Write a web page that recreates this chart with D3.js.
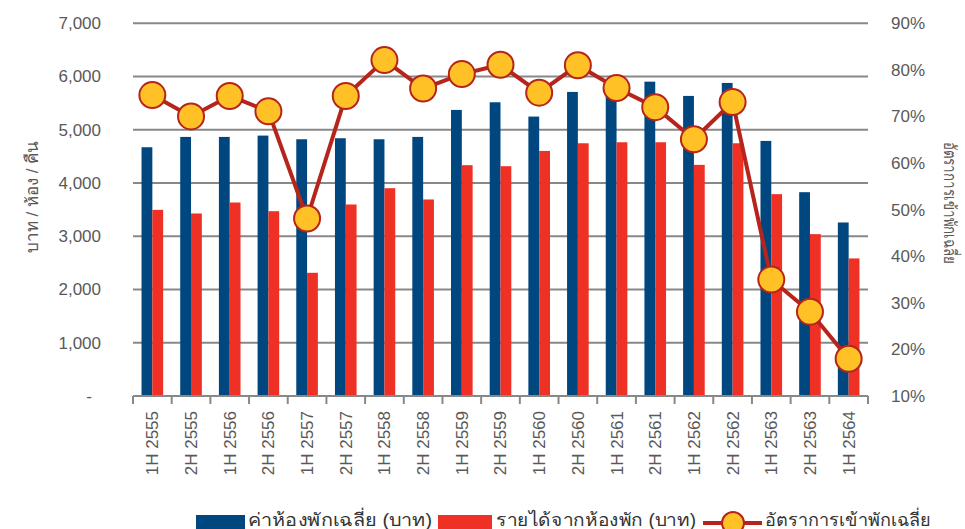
<!DOCTYPE html>
<html lang="th">
<head>
<meta charset="UTF-8">
<title>ค่าห้องพักเฉลี่ย รายได้ และอัตราการเข้าพัก</title>
<script src="https://d3js.org/d3.v7.min.js"></script>
<style>
  body { margin: 0; background: #fff; }
  svg { display: block; font-family: "Liberation Sans", Arial, "Noto Sans", sans-serif; }
  .tick-label { font-size: 17px; fill: #595959; }
  .title { font-size: 17px; fill: #595959; }
  .legend text { font-size: 18px; fill: #333; }
</style>
</head>
<body>
<script>
// data
const periods = ["1H 2555", "2H 2555", "1H 2556", "2H 2556", "1H 2557", "2H 2557", "1H 2558", "2H 2558",
  "1H 2559", "2H 2559", "1H 2560", "2H 2560", "1H 2561", "2H 2561", "1H 2562", "2H 2562",
  "1H 2563", "2H 2563", "1H 2564"];
const avgRoomRate = [4672, 4866, 4866, 4891, 4822, 4841, 4822, 4866, 5373, 5517, 5248, 5711,
  5895, 5904, 5636, 5880, 4791, 3828, 3259];
const roomRevenue = [3496, 3428, 3634, 3471, 2314, 3597, 3903, 3691, 4335, 4316, 4603, 4747,
  4766, 4766, 4341, 4747, 3791, 3040, 2584];
const occupancy = [74.6, 70.0, 74.4, 71.1, 48.1, 74.4, 82.1, 76.0, 79.1, 81.1, 75.1, 81.0,
  76.1, 72.0, 65.1, 73.1, 35.0, 28.1, 18.0];
const leftTicks = [0, 1000, 2000, 3000, 4000, 5000, 6000, 7000];
const rightTicks = [10, 20, 30, 40, 50, 60, 70, 80, 90];

const W = 965, H = 529;
const plot = { left: 133, right: 868, top: 23.3, bottom: 396 };
const blue = "#00467f", red = "#ee3124", lineCol = "#b5251b", gold = "#ffc125", grid = "#888";

const svg = d3.select("body").append("svg").attr("width", W).attr("height", H);

const x = d3.scaleBand().domain(periods).range([plot.left, plot.right]).padding(0);
const inner = d3.scaleBand().domain(["avg", "rev"]).range([0, x.step()])
  .paddingInner(0).paddingOuter(0.79);
const yL = d3.scaleLinear().domain([0, 7000]).range([plot.bottom, plot.top]);
const yR = d3.scaleLinear().domain([10, 90]).range([plot.bottom, plot.top]);

// gridlines
svg.append("g").selectAll("line")
  .data(leftTicks.filter(d => d > 0))
  .join("line")
  .attr("x1", plot.left).attr("x2", plot.right)
  .attr("y1", d => yL(d)).attr("y2", d => yL(d))
  .attr("stroke", grid).attr("stroke-width", 2);

// bars
const groups = svg.append("g").selectAll("g")
  .data(periods)
  .join("g")
  .attr("transform", d => `translate(${x(d)},0)`);

groups.append("rect")
  .attr("x", inner("avg")).attr("width", inner.bandwidth())
  .attr("y", (d, i) => yL(avgRoomRate[i]))
  .attr("height", (d, i) => yL(0) - yL(avgRoomRate[i]))
  .attr("fill", blue);

groups.append("rect")
  .attr("x", inner("rev")).attr("width", inner.bandwidth())
  .attr("y", (d, i) => yL(roomRevenue[i]))
  .attr("height", (d, i) => yL(0) - yL(roomRevenue[i]))
  .attr("fill", red);

// x axis
const xAxis = svg.append("g");
xAxis.append("line")
  .attr("x1", plot.left).attr("x2", plot.right)
  .attr("y1", plot.bottom).attr("y2", plot.bottom)
  .attr("stroke", grid).attr("stroke-width", 2);
xAxis.selectAll("line.tk")
  .data(periods.map(p => x(p)).concat([plot.right]))
  .join("line").attr("class", "tk")
  .attr("x1", d => d).attr("x2", d => d)
  .attr("y1", plot.bottom).attr("y2", plot.bottom + 8)
  .attr("stroke", grid).attr("stroke-width", 2);
xAxis.selectAll("text")
  .data(periods)
  .join("text")
  .attr("class", "tick-label")
  .attr("transform", d => `translate(${x(d) + x.bandwidth() / 2},${plot.bottom + 15}) rotate(-90)`)
  .attr("text-anchor", "end")
  .attr("dy", "0.35em")
  .text(d => d);

// left axis labels
svg.append("g").selectAll("text")
  .data(leftTicks)
  .join("text")
  .attr("class", "tick-label")
  .attr("x", d => d === 0 ? 92 : 101)
  .attr("y", d => yL(d))
  .attr("dy", "0.35em")
  .attr("text-anchor", "end")
  .text(d => d === 0 ? "-" : d3.format(",")(d));

// right axis labels
svg.append("g").selectAll("text")
  .data(rightTicks)
  .join("text")
  .attr("class", "tick-label")
  .attr("x", 891)
  .attr("y", d => yR(d))
  .attr("dy", "0.35em")
  .text(d => d + "%");

// axis titles
svg.append("text").attr("class", "title")
  .attr("transform", "translate(32,197) rotate(-90)")
  .attr("text-anchor", "middle").attr("dy", "0.35em")
  .text("บาท / ห้อง / คืน");
svg.append("text").attr("class", "title")
  .attr("transform", "translate(950,203) rotate(90)")
  .attr("text-anchor", "middle").attr("dy", "0.35em")
  .attr("textLength", 122).attr("lengthAdjust", "spacingAndGlyphs")
  .text("อัตราการเข้าพักเฉลี่ย");

// occupancy line
const cx = d => x(d) + x.bandwidth() / 2;
svg.append("path")
  .datum(periods)
  .attr("fill", "none").attr("stroke", lineCol).attr("stroke-width", 4)
  .attr("stroke-linejoin", "round")
  .attr("d", d3.line().x(d => cx(d)).y((d, i) => yR(occupancy[i])));
svg.append("g").selectAll("circle")
  .data(periods)
  .join("circle")
  .attr("cx", d => cx(d))
  .attr("cy", (d, i) => yR(occupancy[i]))
  .attr("r", 13)
  .attr("fill", gold).attr("stroke", lineCol).attr("stroke-width", 2);

// legend
const legend = svg.append("g").attr("class", "legend");
legend.append("rect").attr("x", 196).attr("y", 515).attr("width", 49).attr("height", 16).attr("fill", blue);
legend.append("text").attr("x", 248).attr("y", 526)
  .attr("textLength", 184).attr("lengthAdjust", "spacingAndGlyphs")
  .text("ค่าห้องพักเฉลี่ย (บาท)");
legend.append("rect").attr("x", 438).attr("y", 515).attr("width", 54).attr("height", 16).attr("fill", red);
legend.append("text").attr("x", 496).attr("y", 526)
  .attr("textLength", 200).attr("lengthAdjust", "spacingAndGlyphs")
  .text("รายได้จากห้องพัก (บาท)");
legend.append("line").attr("x1", 703).attr("x2", 762).attr("y1", 523).attr("y2", 523)
  .attr("stroke", lineCol).attr("stroke-width", 4);
legend.append("circle").attr("cx", 733).attr("cy", 523).attr("r", 11)
  .attr("fill", gold).attr("stroke", lineCol).attr("stroke-width", 2);
legend.append("text").attr("x", 765).attr("y", 526)
  .attr("textLength", 166).attr("lengthAdjust", "spacingAndGlyphs")
  .text("อัตราการเข้าพักเฉลี่ย");
</script>
</body>
</html>
